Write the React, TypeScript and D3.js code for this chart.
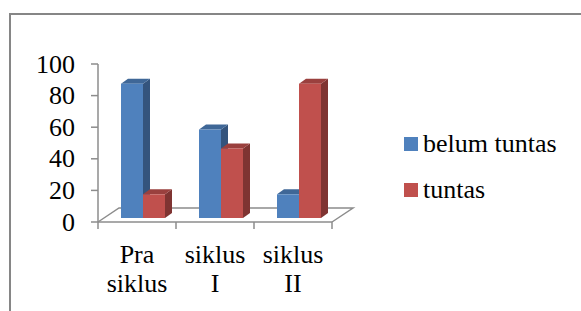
import * as d3 from "d3";

const categories = [["Pra", "siklus"], ["siklus", "I"], ["siklus", "II"]];
const series = ["belum tuntas", "tuntas"];
const belumTuntas = [85, 56, 15];
const tuntas = [15, 44, 85];
const yTicks = [0, 20, 40, 60, 80, 100];

const font = "Liberation Serif";
const fontSize = 26;
const axisColor = "#8c8c8c";
const colors = [
  { front: "#4f81bd", top: "#3f6797", side: "#34547d" },
  { front: "#c0504d", top: "#9a403e", side: "#7f3432" },
];

export default function App() {
  const x0 = 98, x1 = 332, y0 = 222, y1 = 64;
  const floorDx = 21, floorDy = -14; // floor depth
  const ox = 6, oy = -4; // bar front plane offset
  const bdx = 7, bdy = -5; // bar depth

  const keys = categories.map((c) => c.join(" "));
  const x = d3.scaleBand().domain(keys).range([x0, x1]).padding(0);
  const groupW = 44;
  const xs = d3.scaleBand().domain(series).range([0, groupW]).padding(0);
  const y = d3.scaleLinear().domain([0, 100]).range([y0, y1]);
  const values = [belumTuntas, tuntas];
  const bounds = keys.map((k) => x(k)!).concat([x1]);

  const bars: JSX.Element[] = [];
  keys.forEach((k, ci) => {
    const gx = x(k)! + (x.bandwidth() - groupW) / 2 + ox;
    series.forEach((s, si) => {
      const v = values[si][ci];
      const bx0 = gx + xs(s)!;
      const bx1 = bx0 + xs.bandwidth();
      const bTop = y(v) + oy;
      const bBot = y(0) + oy;
      const c = colors[si];
      bars.push(
        <g key={k + s}>
          <path
            d={`M${bx1},${bTop}L${bx1 + bdx},${bTop + bdy}V${bBot + bdy}L${bx1},${bBot}Z`}
            fill={c.side}
          />
          <path
            d={`M${bx0},${bTop}L${bx0 + bdx},${bTop + bdy}H${bx1 + bdx}L${bx1},${bTop}Z`}
            fill={c.top}
          />
          <rect x={bx0} y={bTop} width={bx1 - bx0} height={bBot - bTop} fill={c.front} />
        </g>
      );
    });
  });

  return (
    <svg
      width={581}
      height={311}
      style={{ position: "absolute", left: 0, top: 0, background: "#fff" }}
    >
      {/* chart frame */}
      <path d="M10,311V14H581" fill="none" stroke="#868686" strokeWidth={2} />

      {/* floor */}
      <path
        d={`M${x0},${y0}L${x0 + floorDx},${y0 + floorDy}H${x1 + floorDx}L${x1},${y0}`}
        fill="none"
        stroke={axisColor}
        strokeWidth={1.5}
      />

      {/* x axis */}
      <line x1={x0} x2={x1} y1={y0} y2={y0} stroke={axisColor} strokeWidth={1.5} />
      {bounds.map((b, i) => (
        <line key={i} x1={b} x2={b} y1={y0} y2={y0 + 7} stroke={axisColor} strokeWidth={1.5} />
      ))}
      {categories.map((c) => {
        const cx = x(c.join(" "))! + x.bandwidth() / 2;
        return c.map((line, i) => (
          <text
            key={c.join(" ") + i}
            x={cx}
            y={263 + i * 29}
            textAnchor="middle"
            fill="#000"
            fontFamily={font}
            fontSize={fontSize}
          >
            {line}
          </text>
        ));
      })}

      {/* y axis */}
      <line x1={x0} x2={x0} y1={y0} y2={y1} stroke={axisColor} strokeWidth={1.5} />
      {yTicks.map((t) => (
        <g key={t}>
          <line x1={x0 - 7} x2={x0} y1={y(t)} y2={y(t)} stroke={axisColor} strokeWidth={1.5} />
          <text
            x={75}
            y={y(t) + 8.5}
            textAnchor="end"
            fill="#000"
            fontFamily={font}
            fontSize={fontSize}
          >
            {t}
          </text>
        </g>
      ))}

      {/* bars */}
      {bars}

      {/* legend */}
      {series.map((s, i) => (
        <g key={s} transform={`translate(404,${137 + i * 46})`}>
          <rect width={14} height={14} fill={colors[i].front} />
          <text x={19} y={15} fill="#000" fontFamily={font} fontSize={fontSize}>
            {s}
          </text>
        </g>
      ))}
    </svg>
  );
}
